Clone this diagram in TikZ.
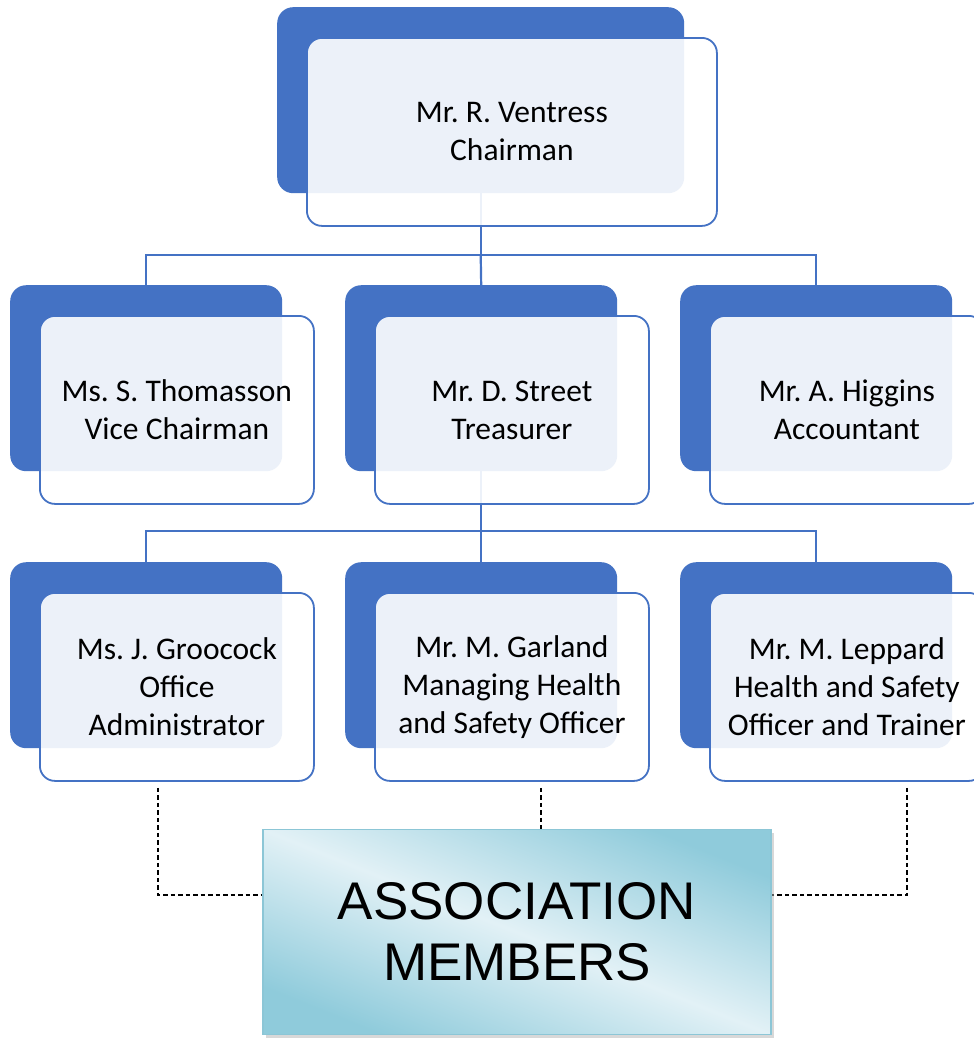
\documentclass[tikz,border=0pt]{standalone}
\usepackage{fontspec}
\setmainfont{Carlito}
\newfontfamily\membersfont{Liberation Sans}
\usepackage{tikz}
\usetikzlibrary{positioning,calc,shadows}
\frenchspacing

\definecolor{chartblue}{HTML}{4472C4}
\definecolor{memdark}{HTML}{8FCBDB}
\definecolor{memlight}{HTML}{E2F1F6}
\definecolor{memedge}{HTML}{8CC6D6}

\pgfdeclarelayer{paper}
\pgfdeclarelayer{lines}
\pgfsetlayers{paper,lines,main}

\tikzset{
  backbox/.style={fill=chartblue, rounded corners=16pt, inner sep=0pt,
    minimum width=272pt, minimum height=186pt, anchor=north west},
  frontbox/.style={draw=chartblue, line width=1.8pt, fill=white, fill opacity=0.9,
    text opacity=1, rounded corners=15pt, inner sep=0pt, align=center,
    minimum width=274pt, minimum height=188pt,
    font=\fontsize{31.5}{38}\selectfont},
  conn/.style={draw=chartblue, line width=2.2pt},
  dashline/.style={draw=black, line width=1.3pt, dash pattern=on 4.5pt off 3pt},
  membox/.style={draw=memedge, line width=1.8pt, shading=axis,
    top color=memdark, bottom color=memdark, middle color=memlight,
    shading angle=-22, minimum width=508pt, minimum height=205pt,
    inner sep=0pt, align=center,
    drop shadow={shadow xshift=3pt, shadow yshift=-3pt, fill=gray!60},
    font=\membersfont\fontsize{53}{61}\selectfont}
}

\begin{document}
\begin{tikzpicture}[x=1pt, y=-1pt]
    \useasboundingbox (0,0) rectangle (974,1039);
    \begin{pgfonlayer}{paper}
        \fill[white] (0,0) rectangle (974,1039);
    \end{pgfonlayer}

    % chairman
    \node[backbox, minimum width=407pt] (chairB) at (277,7) {};
    \node[frontbox, minimum width=410pt, below right=30pt and 29pt of chairB.north west] (chair) {Mr. R. Ventress\\Chairman};

    % second row
    \node[backbox] (viceB) at (10,285) {};
    \node[frontbox, below right=30pt and 29pt of viceB.north west] (vice) {Ms. S. Thomasson\\Vice Chairman};
    \node[backbox] (treasB) at (345,285) {};
    \node[frontbox, below right=30pt and 29pt of treasB.north west] (treas) {Mr. D. Street\\Treasurer};
    \node[backbox] (accB) at (680,285) {};
    \node[frontbox, below right=30pt and 29pt of accB.north west] (acc) {Mr. A. Higgins\\Accountant};

    % third row
    \node[backbox] (grooB) at (10,562) {};
    \node[frontbox, below right=30pt and 29pt of grooB.north west] (groo) {Ms. J. Groocock\\Office\\Administrator};
    \node[backbox] (garlB) at (345,562) {};
    \node[frontbox, below right=30pt and 29pt of garlB.north west] (garl) {Mr. M. Garland\\Managing Health\\and Safety Officer};
    \node[backbox] (leppB) at (680,562) {};
    \node[frontbox, below right=30pt and 29pt of leppB.north west] (lepp) {Mr. M. Leppard\\Health and Safety\\Officer and Trainer};

    % members
    \node[membox] (members) at (517,932) {ASSOCIATION\\MEMBERS};

    \coordinate (bus1) at (chairB.south |- 0,255);
    \coordinate (bus2) at (treasB.south |- 0,531);
    \coordinate (lefttap) at ([xshift=-19pt,yshift=-6pt]groo.south);
    \coordinate (midtap) at ([xshift=29pt,yshift=-6pt]garl.south);
    \coordinate (righttap) at ([xshift=60pt,yshift=-6pt]lepp.south);

    \begin{pgfonlayer}{lines}
        \draw[conn] (chairB.south) -- (bus1);
        \draw[conn] (viceB.north) |- (bus1) -| (accB.north);
        \draw[conn] (bus1) -- (treasB.north);
        \draw[conn] (treasB.south) -- (bus2);
        \draw[conn] (grooB.north) |- (bus2) -| (leppB.north);
        \draw[conn] (bus2) -- (garlB.north);
        \draw[dashline] (lefttap) |- ([yshift=37pt]members.west);
        \draw[dashline] (midtap) -- (midtap |- members.north);
        \draw[dashline] (righttap) |- ([yshift=37pt]members.east);
    \end{pgfonlayer}
\end{tikzpicture}
\end{document}
